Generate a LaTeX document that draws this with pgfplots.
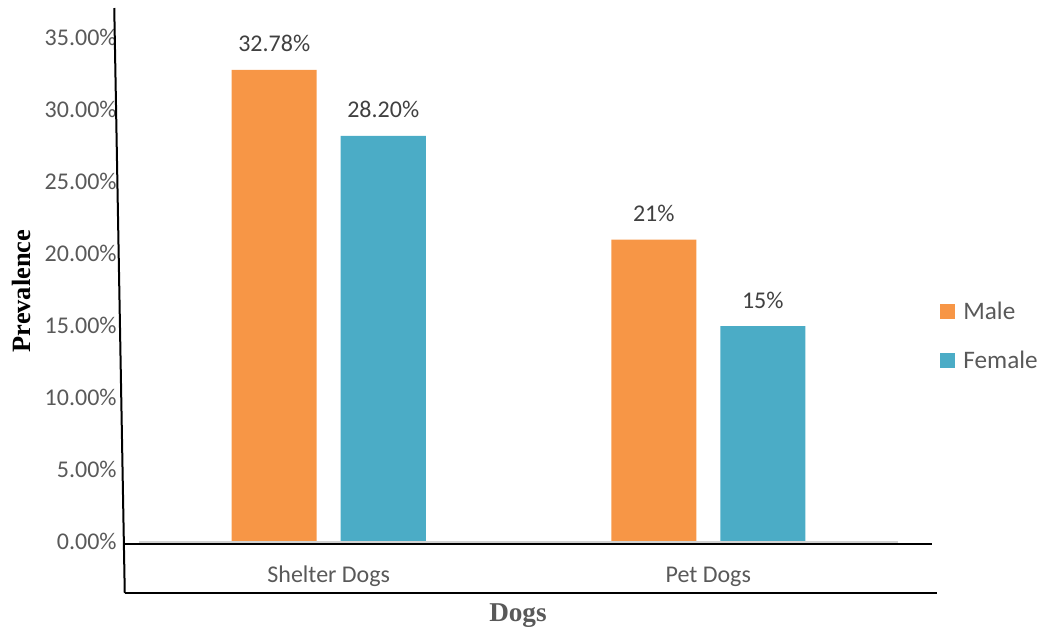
\documentclass[border=0pt]{standalone}
\usepackage{pgfplots}
\pgfplotsset{compat=1.18}
\usepackage{pgfplotstable}
\usepackage{fontspec}
\setmainfont{Carlito}
\newfontfamily\labelfont{Liberation Serif}

\definecolor{maleC}{HTML}{F79646}
\definecolor{femaleC}{HTML}{4BACC6}
\definecolor{tickC}{HTML}{595959}
\definecolor{valC}{HTML}{404040}

% prevalence (%) by sex for each group of dogs
\pgfplotstableread{
x y label
0 32.78 32.78\%
1 21 21\%
}\maletab
\pgfplotstableread{
x y label
0 28.20 28.20\%
1 15 15\%
}\femaletab

\begin{document}
\begin{tikzpicture}
\begin{axis}[
  scale only axis,
  width=379.5bp, height=252bp,
  xmin=-0.5, xmax=1.5,
  ymin=0, ymax=35,
  clip=false,
  axis lines*=left,
  axis line style={draw=none},
  major tick length=0pt,
  ybar=12bp,
  bar width=42.5bp,
  xtick={0,1},
  xticklabels={Shelter Dogs, Pet Dogs},
  ytick={0,5,...,35},
  /pgf/number format/assume math mode=true,
  yticklabel={\pgfmathprintnumber[fixed,fixed zerofill,precision=2]{\tick}\%},
  ticklabel style={font=\fontsize{12bp}{14bp}\selectfont, text=tickC, inner sep=0pt},
  yticklabel style={anchor=base east, xshift=-11bp, yshift=-3.5bp},
  xticklabel style={anchor=base, yshift=-20bp},
  ylabel={Prevalence},
  xlabel={Dogs},
  ylabel style={at={(axis description cs:-0.1548,0.498)}, anchor=center, inner sep=0pt,
    font=\labelfont\bfseries\fontsize{13.2bp}{15bp}\selectfont, text=black},
  xlabel style={at={(axis description cs:0.4993,-0.1587)}, anchor=base, inner sep=0pt,
    font=\labelfont\bfseries\fontsize{13.6bp}{15bp}\selectfont, text=tickC},
  nodes near coords,
  point meta=explicit symbolic,
  every node near coord/.append style={anchor=base, inner sep=0pt, yshift=9bp,
    text=valC, font=\fontsize{12bp}{14bp}\selectfont},
  legend image code/.code={\fill[#1] (0bp,-3.75bp) rectangle (7.5bp,3.75bp);},
  legend style={draw=none, fill=none, at={(axis description cs:1.0553,0.4734)},
    anchor=north west, inner sep=0pt, row sep=16.5bp, column sep=4bp,
    nodes={inner sep=0pt, text height=8bp, text depth=0pt, text=tickC},
    font=\fontsize{12.6bp}{15bp}\selectfont},
  legend cell align=left,
]
\addplot[fill=maleC, draw=none] table[x=x, y=y, meta=label] {\maletab};
\addplot[fill=femaleC, draw=none] table[x=x, y=y, meta=label] {\femaletab};
\legend{Male, Female}

% frame lines around the plot area
\draw[gray!35, line width=0.6bp] (axis cs:-0.5,0) -- (axis cs:1.5,0);
\draw[black, line width=1bp] (axis cs:-0.5652,37.083) -- (axis cs:-0.5375,-3.5417);
\draw[black, line width=0.9bp] (axis cs:-0.5375,-0.16) -- (axis cs:1.5903,-0.16);
\draw[black, line width=1bp] (axis cs:-0.5375,-3.5625) -- (axis cs:1.6034,-3.5625);
\end{axis}
\pgfresetboundingbox
\useasboundingbox (-69.5bp,-44bp) rectangle (454.5bp,271bp);
\end{tikzpicture}
\end{document}
